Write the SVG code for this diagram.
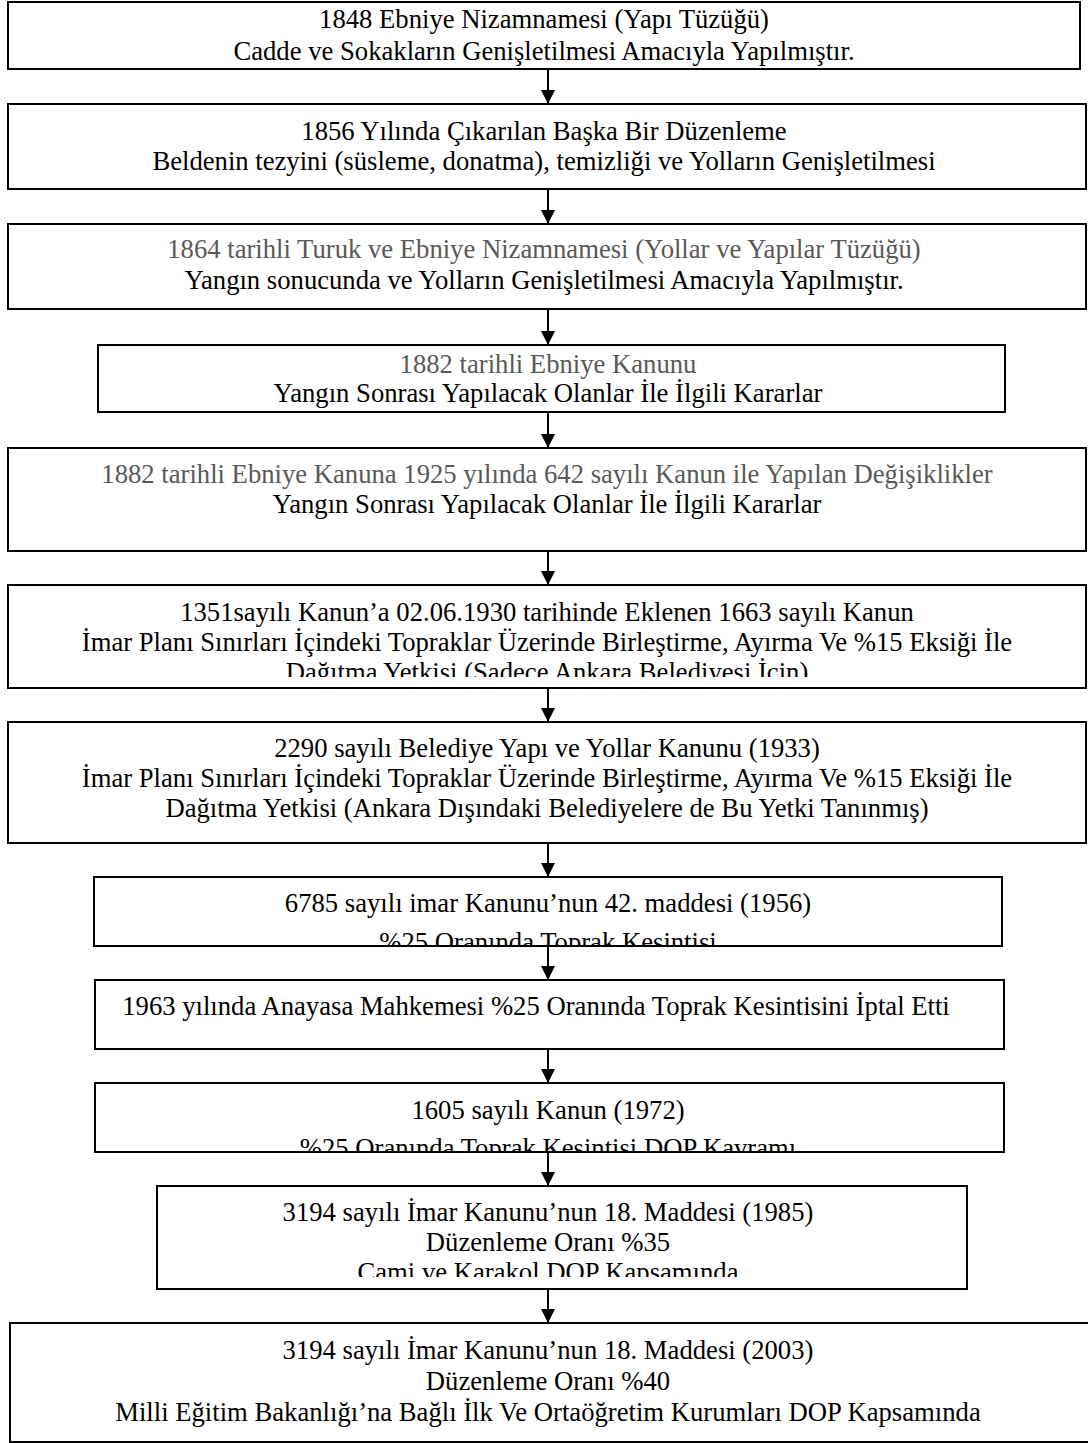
<svg xmlns="http://www.w3.org/2000/svg" width="1088" height="1443" viewBox="0 0 1088 1443">
<style>
.box{fill:#fff;stroke:#000;stroke-width:2}
.t{font-family:"Liberation Serif","Times New Roman",serif;font-size:26.67px;fill:#000;text-anchor:middle}
.g{fill:#595959}
.c{stroke:#000;stroke-width:2;fill:none}
</style>
<defs>
<marker id="ah" markerUnits="userSpaceOnUse" markerWidth="16" markerHeight="16" refX="14" refY="7" orient="auto">
<path d="M0,0 L14,7 L0,14 Z" fill="#000"/>
</marker>
<clipPath id="c6"><rect x="8" y="585" width="1078" height="92"/></clipPath>
<clipPath id="c8"><rect x="94" y="877" width="908" height="68"/></clipPath>
<clipPath id="c10"><rect x="95" y="1083" width="909" height="68"/></clipPath>
<clipPath id="c11"><rect x="157" y="1186" width="810" height="91"/></clipPath>
</defs>
<g id="connectors">
<line class="c" x1="548" y1="69" x2="548" y2="104" marker-end="url(#ah)"/>
<line class="c" x1="548" y1="189" x2="548" y2="224" marker-end="url(#ah)"/>
<line class="c" x1="548" y1="309" x2="548" y2="345" marker-end="url(#ah)"/>
<line class="c" x1="548" y1="412" x2="548" y2="448" marker-end="url(#ah)"/>
<line class="c" x1="548" y1="551" x2="548" y2="585" marker-end="url(#ah)"/>
<line class="c" x1="548" y1="688" x2="548" y2="722" marker-end="url(#ah)"/>
<line class="c" x1="548" y1="843" x2="548" y2="877" marker-end="url(#ah)"/>
<line class="c" x1="548" y1="946" x2="548" y2="980" marker-end="url(#ah)"/>
<line class="c" x1="548" y1="1049" x2="548" y2="1083" marker-end="url(#ah)"/>
<line class="c" x1="548" y1="1152" x2="548" y2="1186" marker-end="url(#ah)"/>
<line class="c" x1="548" y1="1289" x2="548" y2="1323" marker-end="url(#ah)"/>
</g>
<g id="n1">
<rect class="box" x="8" y="2" width="1072" height="67"/>
<text class="t" x="544" y="28">1848 Ebniye Nizamnamesi (Yapı Tüzüğü)</text>
<text class="t" x="544" y="60">Cadde ve Sokakların Genişletilmesi Amacıyla Yapılmıştır.</text>
</g>
<g id="n2">
<rect class="box" x="8" y="104" width="1078" height="85"/>
<text class="t" x="544" y="140">1856 Yılında Çıkarılan Başka Bir Düzenleme</text>
<text class="t" x="544" y="170">Beldenin tezyini (süsleme, donatma), temizliği ve Yolların Genişletilmesi</text>
</g>
<g id="n3">
<rect class="box" x="8" y="224" width="1078" height="85"/>
<text class="t g" x="544" y="258">1864 tarihli Turuk ve Ebniye Nizamnamesi (Yollar ve Yapılar Tüzüğü)</text>
<text class="t" x="544" y="289">Yangın sonucunda ve Yolların Genişletilmesi Amacıyla Yapılmıştır.</text>
</g>
<g id="n4">
<rect class="box" x="98" y="345" width="907" height="67"/>
<text class="t g" x="548" y="373">1882 tarihli Ebniye Kanunu</text>
<text class="t" x="548" y="402">Yangın Sonrası Yapılacak Olanlar İle İlgili Kararlar</text>
</g>
<g id="n5">
<rect class="box" x="8" y="448" width="1078" height="103"/>
<text class="t g" x="547" y="483">1882 tarihli Ebniye Kanuna 1925 yılında 642 sayılı Kanun ile Yapılan Değişiklikler</text>
<text class="t" x="547" y="513">Yangın Sonrası Yapılacak Olanlar İle İlgili Kararlar</text>
</g>
<g id="n6">
<rect class="box" x="8" y="585" width="1078" height="103"/>
<g clip-path="url(#c6)">
<text class="t" x="547" y="621">1351sayılı Kanun’a 02.06.1930 tarihinde Eklenen 1663 sayılı Kanun</text>
<text class="t" x="547" y="651">İmar Planı Sınırları İçindeki Topraklar Üzerinde Birleştirme, Ayırma Ve %15 Eksiği İle</text>
<text class="t" x="547" y="681">Dağıtma Yetkisi (Sadece Ankara Belediyesi İçin)</text>
</g>
</g>
<g id="n7">
<rect class="box" x="8" y="722" width="1078" height="121"/>
<text class="t" x="547" y="757">2290 sayılı Belediye Yapı ve Yollar Kanunu (1933)</text>
<text class="t" x="547" y="787">İmar Planı Sınırları İçindeki Topraklar Üzerinde Birleştirme, Ayırma Ve %15 Eksiği İle</text>
<text class="t" x="547" y="817">Dağıtma Yetkisi (Ankara Dışındaki Belediyelere de Bu Yetki Tanınmış)</text>
</g>
<g id="n8">
<rect class="box" x="94" y="877" width="908" height="69"/>
<g clip-path="url(#c8)">
<text class="t" x="548" y="912">6785 sayılı imar Kanunu’nun 42. maddesi (1956)</text>
<text class="t" x="548" y="951">%25 Oranında Toprak Kesintisi</text>
</g>
</g>
<g id="n9">
<rect class="box" x="95" y="980" width="909" height="69"/>
<text class="t" x="536" y="1015">1963 yılında Anayasa Mahkemesi %25 Oranında Toprak Kesintisini İptal Etti</text>
</g>
<g id="n10">
<rect class="box" x="95" y="1083" width="909" height="69"/>
<g clip-path="url(#c10)">
<text class="t" x="548" y="1119">1605 sayılı Kanun (1972)</text>
<text class="t" x="548" y="1157">%25 Oranında Toprak Kesintisi DOP Kavramı</text>
</g>
</g>
<g id="n11">
<rect class="box" x="157" y="1186" width="810" height="103"/>
<g clip-path="url(#c11)">
<text class="t" x="548" y="1221">3194 sayılı İmar Kanunu’nun 18. Maddesi (1985)</text>
<text class="t" x="548" y="1251">Düzenleme Oranı %35</text>
<text class="t" x="548" y="1281">Cami ve Karakol DOP Kapsamında</text>
</g>
</g>
<g id="n12">
<rect class="box" x="10" y="1323" width="1082" height="119"/>
<text class="t" x="548" y="1359">3194 sayılı İmar Kanunu’nun 18. Maddesi (2003)</text>
<text class="t" x="548" y="1390">Düzenleme Oranı %40</text>
<text class="t" x="548" y="1421">Milli Eğitim Bakanlığı’na Bağlı İlk Ve Ortaöğretim Kurumları DOP Kapsamında</text>
</g>
</svg>
